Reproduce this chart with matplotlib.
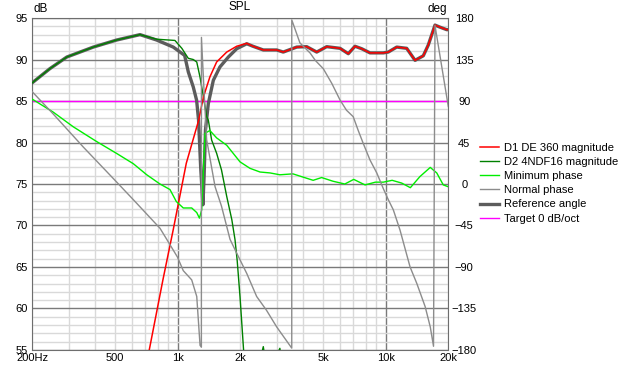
import matplotlib
matplotlib.use('Agg')
import matplotlib.pyplot as plt
from matplotlib.ticker import FixedLocator, FuncFormatter, MultipleLocator, NullFormatter

plt.rcParams['font.family'] = ['Liberation Sans', 'DejaVu Sans']
plt.rcParams['font.size'] = 8

# magnitudes (dB, left axis)
d1_freq = [690, 730, 850, 952, 1100, 1262, 1330, 1428, 1539, 1721, 1922, 2148, 2300, 2580, 2992,
           3218, 3734, 4172, 4660, 5204, 6035, 6611, 7118, 7670, 8406, 9740, 10292, 11298, 12619,
           13840, 15163, 16025, 17260, 18240, 19640, 20000]
d1_db = [52, 55, 63.5, 69.5, 77.5, 82.7, 85.5, 87.9, 89.7, 90.9, 91.6, 91.95, 91.6, 91.15, 91.15,
         90.9, 91.5, 91.55, 90.9, 91.55, 91.35, 90.7, 91.6, 91.3, 90.8, 90.8, 90.9, 91.5, 91.35,
         89.9, 90.45, 91.75, 94.15, 93.9, 93.6, 93.6]

d2_freq = [200, 243, 293, 393, 509, 659, 792, 970, 1047, 1124, 1188, 1235, 1280, 1330, 1378, 1404,
           1456, 1539, 1624, 1721, 1821, 1886, 1932, 1994, 2074, 2200, 2450, 2580, 2700, 2950,
           3100, 3250, 3500]
d2_db = [87.2, 88.9, 90.3, 91.5, 92.35, 93.0, 92.45, 92.3, 91.35, 90.15, 90.0, 89.7, 87.9, 85.5,
         83.1, 82.7, 80.3, 78.7, 76.7, 73.5, 70.7, 68.3, 65.8, 61.4, 55, 48, 53, 55.4, 52, 54,
         55.2, 50, 45]

ref_freq = [200, 243, 293, 393, 509, 659, 792, 952, 1080, 1125, 1188, 1233, 1260, 1290, 1322,
            1340, 1360, 1404, 1484, 1596, 1752, 1922, 2148, 2300, 2580, 2992, 3218, 3734, 4172,
            4660, 5204, 6035, 6611, 7118, 7670, 8406, 9740, 10292, 11298, 12619, 13840, 15163,
            16025, 17260, 18240, 19640, 20000]
ref_db = [87.2, 88.9, 90.3, 91.5, 92.35, 93.0, 92.35, 91.5, 90.5, 88.5, 86.7, 85.1, 82.7, 77,
          72.5, 76, 81.5, 84.7, 87.5, 89.1, 90.3, 91.3, 91.9, 91.6, 91.15, 91.15, 90.9, 91.5,
          91.55, 90.9, 91.55, 91.35, 90.7, 91.6, 91.3, 90.8, 90.8, 90.9, 91.5, 91.35, 89.9,
          90.45, 91.75, 94.15, 93.9, 93.6, 93.6]

target_freq = [200, 20000]
target_db = [85, 85]

# phases (deg, right axis)
minph_freq = [200, 252, 315, 408, 510, 612, 710, 822, 918, 985, 1064, 1168, 1235, 1272, 1305,
              1353, 1428, 1539, 1721, 1994, 2226, 2488, 2780, 3100, 3580, 3940, 4480, 4920,
              5580, 6360, 7020, 7960, 8920, 9740, 10740, 11940, 13140, 14600, 16380, 17600,
              18920, 20000]
minph_deg = [92, 78, 62, 46, 33, 22, 10, 0, -6, -19, -26, -26, -31, -37, -28, 55, 58, 50, 42, 24,
             17, 13, 12, 10, 11, 8, 4, 7, 3, 0, 5, -1, 2, 2, 4, 1, -4, 8, 18, 12, -1, -3]

normph_freq = [200, 252, 352, 490, 612, 822, 886, 996, 1064, 1168, 1235, 1281, 1300, 1301, 1340,
               1378, 1513, 1624, 1785, 1922, 2148, 2397, 2674, 2992, 3535, 3536, 3870, 4334,
               4590, 5014, 5510, 6035, 6480, 6980, 7380, 7800, 8406, 9060, 9740, 10292, 10880,
               11720, 13100, 14120, 15480, 16380, 16980, 17260, 20000]
normph_deg = [100, 76, 40, 6, -17, -48, -60, -79, -94, -104, -122, -175, -177, 159, 99, 48, -3,
              -24, -60, -75, -97, -122, -137, -155, -178, 178, 153, 142, 134, 125, 109, 91, 80,
              73, 58, 44, 26, 12, -5, -17, -28, -50, -90, -108, -133, -155, -176, 172, 84]

x_labels = {200: '200Hz', 500: '500', 1000: '1k', 2000: '2k', 5000: '5k', 10000: '10k', 20000: '20k'}

fig = plt.figure(figsize=(6.27, 3.68), dpi=100)
ax = fig.add_axes([0.0515, 0.049, 0.6635, 0.902])
ax.set_xscale('log')
ax.set_xlim(200, 20000)
ax.set_ylim(55, 95)

minor_x = [200, 300, 400, 500, 600, 700, 800, 900, 2000, 3000, 4000, 5000, 6000, 7000, 8000,
           9000, 20000]
ax.xaxis.set_major_locator(FixedLocator([1000, 10000]))
ax.xaxis.set_minor_locator(FixedLocator(minor_x))
fmt = FuncFormatter(lambda v, p: x_labels.get(int(round(v)), ''))
ax.xaxis.set_major_formatter(fmt)
ax.xaxis.set_minor_formatter(fmt)
ax.yaxis.set_major_locator(MultipleLocator(5))
ax.yaxis.set_minor_locator(MultipleLocator(1))
ax.yaxis.set_minor_formatter(NullFormatter())
ax.grid(which='major', color='#7a7a7a', linewidth=1.0, zorder=0)
ax.grid(which='minor', color='#d9d9d9', linewidth=1.0, zorder=0)
ax.set_axisbelow(True)
ax.tick_params(which='both', length=0, labelsize=8)
ax.tick_params(axis='x', which='both', pad=2)
ax.tick_params(axis='y', pad=3)
for s in ax.spines.values():
    s.set_color('#6e6e6e')

l_target, = ax.plot(target_freq, target_db, color='#ff00ff', lw=1.0, zorder=2)
l_ref, = ax.plot(ref_freq, ref_db, color='#5c5c5c', lw=2.4, zorder=3)
l_d2, = ax.plot(d2_freq, d2_db, color='#008000', lw=1.0, zorder=4)
l_d1, = ax.plot(d1_freq, d1_db, color='#ff0000', lw=1.1, zorder=5)

ax2 = ax.twinx()
ax2.set_ylim(-180, 180)
ax2.yaxis.set_major_locator(MultipleLocator(45))
ax2.tick_params(which='both', length=0, labelsize=8, pad=11.5)
for t in ax2.get_yticklabels():
    t.set_horizontalalignment('center')
for s in ax2.spines.values():
    s.set_visible(False)
l_min, = ax2.plot(minph_freq, minph_deg, color='#00ee00', lw=1.0)
l_norm, = ax2.plot(normph_freq, normph_deg, color='#8c8c8c', lw=1.0)

fig.text(33 / 627, 1 - 3 / 368, 'dB', ha='left', va='top', fontsize=8.5)
fig.text(240 / 627, 1 - 1 / 368, 'SPL', ha='center', va='top', fontsize=8.5)
fig.text(447 / 627, 1 - 3 / 368, 'deg', ha='right', va='top', fontsize=8.5)

handles = [l_d1, l_d2, l_min, l_norm, l_ref, l_target]
labels = ['D1 DE 360 magnitude', 'D2 4NDF16 magnitude', 'Minimum phase', 'Normal phase',
          'Reference angle', 'Target 0 dB/oct']
fig.legend(handles, labels, loc='upper left', bbox_to_anchor=(480 / 627, 1 - 143 / 368),
           frameon=False, fontsize=8, handlelength=1.75, handletextpad=0.45,
           labelspacing=0.37, borderpad=0, borderaxespad=0)

fig.savefig('out.png', dpi=100)
